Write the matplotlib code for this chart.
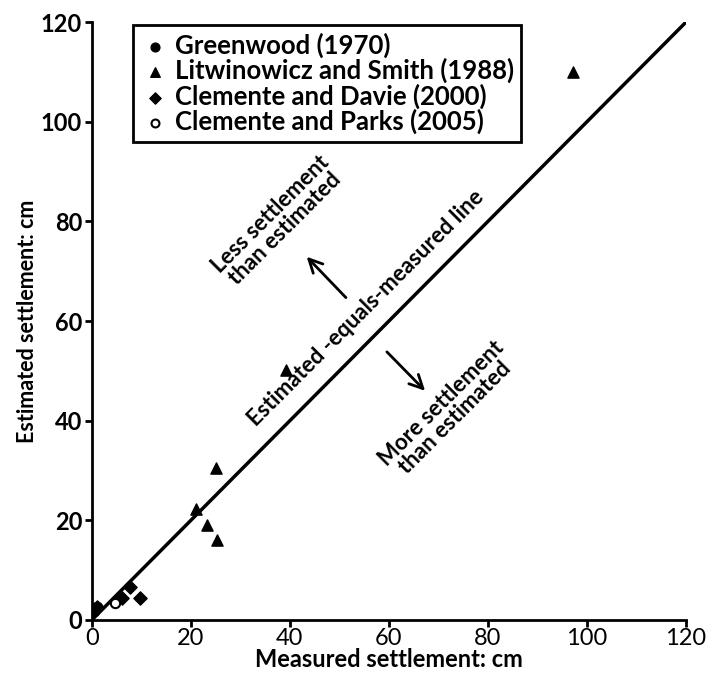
"""Estimated vs measured settlement scatter with the equality line"""
import matplotlib.pyplot as plt

plt.rcParams["font.family"] = ["Lato", "DejaVu Sans"]

greenwood_x = [0.5, 1.0]
greenwood_y = [1.8, 2.6]

litwinowicz_x = [97.2, 39.2, 25.0, 21.0, 23.2, 25.3]
litwinowicz_y = [110.0, 50.2, 30.5, 22.2, 19.1, 16.0]

davie_x = [1.0, 7.7, 9.7, 6.0]
davie_y = [2.6, 6.6, 4.4, 4.4]

parks_x = [4.6]
parks_y = [3.4]

ticks = [0, 20, 40, 60, 80, 100, 120]


def main():
    fig = plt.figure(figsize=(7.12, 6.81), dpi=100)
    ax = fig.add_axes([0.129, 0.0896, 0.8345, 0.878])

    ax.plot([0, 120], [0, 120], color="black", lw=2.5, zorder=2)

    ax.scatter(greenwood_x, greenwood_y, marker="o", s=55, color="black",
               label="Greenwood (1970)", zorder=3)
    ax.scatter(litwinowicz_x, litwinowicz_y, marker="^", s=65, color="black",
               label="Litwinowicz and Smith (1988)", zorder=3)
    ax.scatter(davie_x, davie_y, marker="D", s=45, color="black",
               label="Clemente and Davie (2000)", zorder=3)
    ax.scatter(parks_x, parks_y, marker="o", s=45, facecolor="white",
               edgecolor="black", linewidth=1.5,
               label="Clemente and Parks (2005)", zorder=3)

    leg = ax.legend(loc="upper left", bbox_to_anchor=(0.07, 0.995),
                    borderaxespad=0, prop={"size": 18.5, "weight": "bold"},
                    frameon=True, fancybox=False, edgecolor="black",
                    handletextpad=0.2, borderpad=0.3, labelspacing=0.0,
                    handlelength=1.1, markerscale=0.85, framealpha=1)
    leg.get_frame().set_linewidth(2)

    txt = dict(rotation=45, ha="center", va="center", fontsize=16,
               fontweight="bold", rotation_mode="anchor", linespacing=0.95,
               zorder=4)
    ax.text(55.3, 62.5, "Estimated -equals-measured line", **txt)
    ax.text(37.5, 80, "Less settlement\nthan estimated", **txt)
    ax.text(72, 42, "More settlement\nthan estimated", **txt)

    ax.annotate("", xy=(43, 73.3), xytext=(51.7, 64.3),
                arrowprops=dict(arrowstyle="->", lw=2, color="black",
                                mutation_scale=24))
    ax.annotate("", xy=(67.7, 45.6), xytext=(59.2, 54.2),
                arrowprops=dict(arrowstyle="->", lw=2, color="black",
                                mutation_scale=24))

    ax.set_xlim(0, 120)
    ax.set_ylim(0, 120)
    ax.set_xticks(ticks)
    ax.set_yticks(ticks)
    ax.tick_params(axis="y", labelsize=17, width=2, length=5, pad=2)
    ax.tick_params(axis="x", labelsize=17, width=2, length=5, pad=1)
    for lbl in ax.get_yticklabels():
        lbl.set_fontweight("bold")
    for side in ("top", "right"):
        ax.spines[side].set_visible(False)
    for side in ("left", "bottom"):
        ax.spines[side].set_linewidth(2)

    ax.set_xlabel("Measured settlement: cm", fontsize=17,
                  fontweight="bold", labelpad=-1)
    ax.set_ylabel("Estimated settlement: cm", fontsize=15.5,
                  fontweight="bold", labelpad=2)

    fig.savefig("out.png", dpi=100)


if __name__ == "__main__":
    main()
